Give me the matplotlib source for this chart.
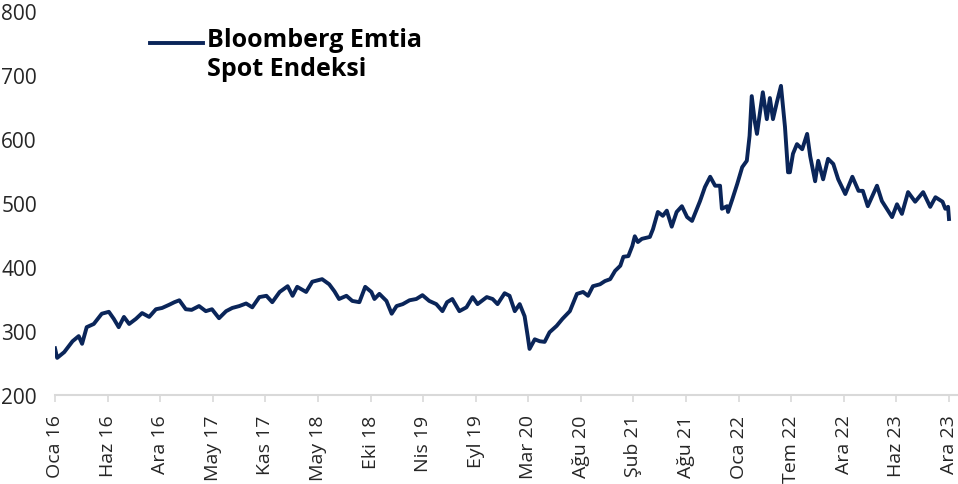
import matplotlib
matplotlib.use("Agg")
import matplotlib.pyplot as plt
import matplotlib.dates as mdates
from matplotlib.lines import Line2D
import numpy as np
import pandas as pd

plt.rcParams["font.family"] = ["Open Sans", "DejaVu Sans"]

# =====================================================
# Data
# =====================================================

dates = [
    "2016-01-04", "2016-01-11", "2016-02-03", "2016-03-01", "2016-03-21", "2016-04-01",
    "2016-04-16", "2016-05-09", "2016-06-04", "2016-06-27", "2016-07-13", "2016-07-29",
    "2016-08-15", "2016-09-01", "2016-09-23", "2016-10-13", "2016-11-05", "2016-11-27",
    "2016-12-17", "2017-01-09", "2017-01-26", "2017-02-11", "2017-03-04", "2017-03-23",
    "2017-04-16", "2017-05-08", "2017-05-28", "2017-06-20", "2017-07-13", "2017-08-02",
    "2017-08-25", "2017-09-16", "2017-10-06", "2017-10-29", "2017-11-21", "2017-12-10",
    "2018-01-03", "2018-01-29", "2018-02-14", "2018-03-01", "2018-03-30", "2018-04-19",
    "2018-05-21", "2018-06-13", "2018-06-30", "2018-07-15", "2018-08-08", "2018-08-27",
    "2018-09-19", "2018-10-08", "2018-10-28", "2018-11-07", "2018-11-23", "2018-12-16",
    "2019-01-02", "2019-01-18", "2019-02-07", "2019-03-01", "2019-03-23", "2019-04-12",
    "2019-05-04", "2019-05-27", "2019-06-16", "2019-07-01", "2019-07-18", "2019-08-10",
    "2019-09-02", "2019-09-22", "2019-10-08", "2019-11-07", "2019-11-26", "2019-12-12",
    "2020-01-04", "2020-01-20", "2020-02-06", "2020-02-22", "2020-03-09", "2020-03-19",
    "2020-03-25", "2020-04-11", "2020-04-27", "2020-05-13", "2020-05-29", "2020-06-21",
    "2020-07-10", "2020-08-03", "2020-08-26", "2020-09-15", "2020-10-01", "2020-10-17",
    "2020-11-09", "2020-11-25", "2020-12-12", "2020-12-28", "2021-01-14", "2021-01-24",
    "2021-02-09", "2021-02-22", "2021-03-02", "2021-03-12", "2021-03-25", "2021-04-20",
    "2021-04-30", "2021-05-16", "2021-06-01", "2021-06-14", "2021-06-30", "2021-07-16",
    "2021-08-02", "2021-08-19", "2021-09-04", "2021-09-20", "2021-09-30", "2021-10-16",
    "2021-11-02", "2021-11-18", "2021-12-04", "2021-12-10", "2021-12-27", "2021-12-30",
    "2022-01-13", "2022-01-29", "2022-02-14", "2022-03-01", "2022-03-10", "2022-03-17",
    "2022-03-27", "2022-04-03", "2022-04-13", "2022-04-22", "2022-05-05", "2022-05-15",
    "2022-05-25", "2022-06-07", "2022-06-20", "2022-07-03", "2022-07-13", "2022-07-19",
    "2022-07-29", "2022-08-11", "2022-08-28", "2022-09-13", "2022-09-23", "2022-10-09",
    "2022-10-19", "2022-11-04", "2022-11-20", "2022-12-07", "2022-12-23", "2023-01-15",
    "2023-02-07", "2023-02-27", "2023-03-13", "2023-03-29", "2023-04-28", "2023-05-14",
    "2023-06-03", "2023-06-16", "2023-07-02", "2023-07-18", "2023-08-07", "2023-08-30",
    "2023-09-25", "2023-10-18", "2023-11-04", "2023-11-27", "2023-12-06", "2023-12-15",
    "2023-12-18",
]

values = [
    273, 258, 267, 284, 292, 280,
    306, 311, 327, 330, 319, 306,
    322, 311, 319, 328, 322, 334,
    336, 341, 345, 348, 334, 333,
    339, 331, 334, 320, 331, 336,
    339, 343, 337, 353, 355, 345,
    361, 370, 355, 369, 361, 377,
    381, 373, 362, 350, 355, 347,
    345, 369, 361, 350, 358, 347,
    327, 339, 342, 348, 350, 356,
    347, 342, 331, 345, 350, 331,
    337, 353, 342, 353, 350, 342,
    359, 355, 331, 342, 323, 292,
    272, 287, 284, 283, 298, 308,
    319, 331, 358, 361, 355, 370,
    373, 378, 381, 394, 402, 416,
    417, 433, 448, 439, 444, 447,
    459, 486, 480, 488, 463, 486,
    495, 478, 472, 491, 503, 525,
    541, 527, 527, 491, 495, 486,
    506, 530, 556, 566, 605, 667,
    627, 608, 642, 673, 631, 664,
    631, 658, 683, 619, 548, 548,
    577, 592, 584, 608, 573, 534,
    566, 537, 569, 561, 537, 514,
    541, 519, 519, 495, 527, 503,
    488, 478, 498, 483, 517, 502,
    517, 494, 509, 502, 491, 494,
    475,
]

tick_labels = [
    "Oca 16", "Haz 16", "Ara 16", "May 17", "Kas 17", "May 18", "Eki 18", "Nis 19",
    "Eyl 19", "Mar 20", "Ağu 20", "Şub 21", "Ağu 21", "Oca 22", "Tem 22", "Ara 22",
    "Haz 23", "Ara 23",
]

y_ticks = [200, 300, 400, 500, 600, 700, 800]

series_label = "Bloomberg Emtia\nSpot Endeksi"

# =====================================================
# Plot
# =====================================================

LINE_COLOR = "#0a2559"
TEXT_COLOR = "#262626"
W, H = 958, 485

x = mdates.date2num(pd.to_datetime(dates))

fig = plt.figure(figsize=(W / 100, H / 100), dpi=100)

# axes from px 55 to beyond the right edge, 12 to 396 vertically
left_px, right_px, top_px, bottom_px = 55, 970, 12, 396
ax = fig.add_axes([
    left_px / W,
    1 - bottom_px / H,
    (right_px - left_px) / W,
    (bottom_px - top_px) / H,
])

ax.plot(x, values, color=LINE_COLOR, linewidth=2.8, solid_joinstyle="round")

# last point sits at px 949
span = x[-1] - x[0]
x_right = x[0] + span * (right_px - left_px) / (949 - left_px)
ax.set_xlim(x[0], x_right)
ax.set_ylim(200, 800)

ax.set_xticks(np.linspace(x[0], x[-1], len(tick_labels)))
ax.set_xticklabels(tick_labels, rotation=90, fontsize=14, color=TEXT_COLOR)
ax.set_yticks(y_ticks)
ax.set_yticklabels([str(v) for v in y_ticks], fontsize=15, color=TEXT_COLOR)

ax.tick_params(axis="x", length=5, width=1.2, color="#d9d9d9", pad=9)
ax.tick_params(axis="y", length=0, pad=13)

for side in ["top", "right", "left"]:
    ax.spines[side].set_visible(False)
ax.spines["bottom"].set_color("#d9d9d9")
ax.spines["bottom"].set_linewidth(1.5)

# legend drawn by hand so the line lines up with the first text row
fig.add_artist(Line2D(
    [150 / W, 203 / W], [1 - 44 / H, 1 - 44 / H],
    color=LINE_COLOR, linewidth=2.8, transform=fig.transFigure
))
fig.text(
    207 / W, 1 - 28 / H, series_label,
    fontsize=18, fontweight="bold", color="black",
    va="top", ha="left", linespacing=1.22
)

fig.savefig("out.png", dpi=100)
